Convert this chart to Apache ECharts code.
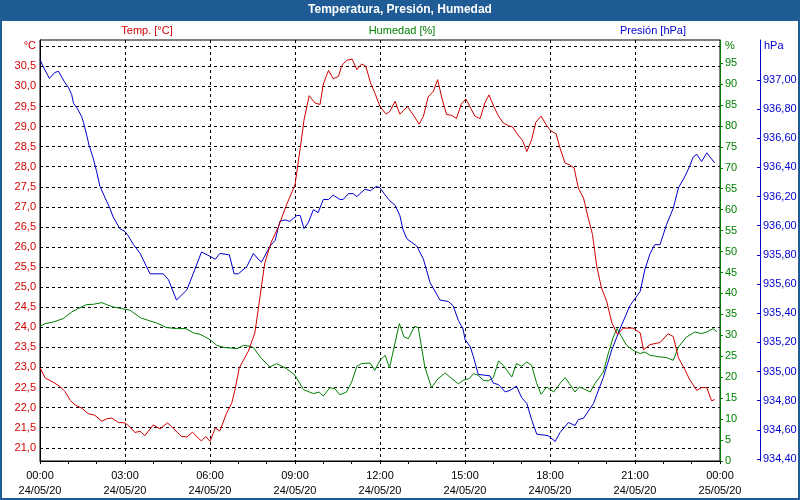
<!DOCTYPE html>
<html>
<head>
<meta charset="utf-8">
<script src="https://cdn.jsdelivr.net/npm/echarts@6/dist/echarts.min.js"></script>
<style>
html,body{margin:0;padding:0;background:#fff;}
#chart{width:800px;height:500px;}
</style>
</head>
<body>
<div id="chart"></div>
<script>
// ---- data (minutes since 24/05/20 00:00) ----
const tempTimes = [0,11,28,42,53,64,74,88,102,116,131,141,152,166,180,191,201,212,222,240,254,270,282,300,311,323,335,342,351,360,371,381,395,406,413,422,441,455,466,476,489,505,522,540,547,551,559,570,582,593,600,611,621,632,639,649,661,671,681,690,700,709,720,733,741,752,762,778,790,803,812,822,833,842,851,861,872,882,892,902,912,921,932,942,951,961,971,981,992,1001,1009,1022,1031,1041,1050,1061,1072,1081,1093,1101,1112,1121,1131,1140,1151,1161,1170,1179,1189,1200,1211,1223,1235,1256,1271,1278,1292,1313,1330,1341,1352,1366,1376,1391,1401,1412,1422,1429];
const tempValues = [22.99,22.74,22.63,22.53,22.40,22.18,22.07,21.99,21.85,21.81,21.66,21.72,21.74,21.63,21.62,21.51,21.38,21.41,21.30,21.57,21.47,21.62,21.49,21.28,21.27,21.39,21.24,21.17,21.28,21.16,21.49,21.42,21.86,22.11,22.45,22.99,23.40,23.86,24.77,25.60,26.10,26.51,27.05,27.55,28.13,28.45,29.16,29.77,29.59,29.55,30.06,30.40,30.19,30.25,30.52,30.65,30.68,30.42,30.56,30.50,30.09,29.84,29.50,29.31,29.38,29.63,29.31,29.50,29.30,29.06,29.26,29.74,29.88,30.17,29.71,29.30,29.28,29.20,29.56,29.69,29.46,29.26,29.20,29.59,29.79,29.50,29.26,29.09,29.02,28.99,28.84,28.65,28.38,28.67,29.11,29.26,29.05,28.90,28.82,28.47,28.09,28.05,27.97,27.47,27.22,26.72,26.31,25.52,24.98,24.65,24.11,23.82,23.98,23.98,23.86,23.44,23.57,23.62,23.84,23.77,23.24,22.94,22.69,22.43,22.50,22.50,22.17,22.20];

const humTimes = [0,11,28,49,67,81,99,113,131,141,155,173,191,212,233,247,268,289,309,325,339,360,374,392,417,431,445,452,469,487,501,522,540,558,579,591,600,614,625,635,649,660,671,681,699,709,720,731,740,761,771,780,793,801,815,829,843,858,872,886,896,909,918,928,939,949,960,971,981,999,1009,1020,1031,1041,1052,1061,1073,1088,1101,1112,1121,1133,1142,1151,1165,1175,1193,1203,1214,1222,1232,1242,1256,1271,1281,1292,1313,1327,1341,1352,1369,1387,1401,1412,1426,1433];
const humValues = [32.16,32.80,33.18,33.99,35.57,36.38,37.34,37.41,37.81,37.34,36.76,36.38,35.98,34.23,33.42,32.94,31.85,31.61,31.61,30.56,30.25,28.98,27.62,27.07,26.83,27.62,27.38,27.07,24.44,22.44,23.25,22.06,20.46,17.04,16.09,16.47,15.52,17.52,17.20,15.80,16.47,18.86,22.61,23.25,23.39,21.65,24.04,25.23,22.20,32.80,29.60,29.22,32.16,31.85,22.44,17.52,19.67,21.01,19.67,18.40,19.26,19.67,20.86,20.46,19.26,19.10,19.91,23.87,22.85,20.05,23.25,22.61,23.63,22.85,18.48,15.92,17.67,16.47,18.48,19.91,18.48,16.47,17.67,17.28,16.47,18.48,21.25,25.50,29.60,31.61,29.60,27.62,26.43,25.64,26.02,25.23,24.83,24.68,24.04,27.21,29.60,30.80,30.41,30.80,31.61,30.80];

const presTimes = [0,7,20,31,39,46,53,60,67,71,78,88,92,99,104,113,120,127,138,148,155,169,180,187,198,212,233,261,272,289,311,328,342,360,371,381,401,411,420,438,452,462,469,487,498,508,519,529,544,551,559,568,579,589,600,611,621,635,642,653,663,671,688,700,712,720,731,741,752,762,769,777,798,812,826,847,865,875,886,896,900,911,918,928,953,960,971,985,995,1009,1020,1031,1041,1052,1076,1091,1101,1119,1133,1140,1151,1172,1193,1211,1228,1249,1271,1281,1292,1302,1313,1327,1341,1352,1366,1376,1383,1391,1401,1412,1429];
const presValues = [937.14,937.09,937.01,937.05,937.06,937.02,936.98,936.95,936.90,936.84,936.81,936.75,936.71,936.62,936.55,936.46,936.37,936.27,936.19,936.12,936.06,935.98,935.96,935.93,935.87,935.81,935.67,935.67,935.63,935.49,935.56,935.70,935.82,935.79,935.77,935.81,935.80,935.67,935.67,935.72,935.81,935.77,935.75,935.86,935.90,936.03,936.04,936.03,936.07,936.07,935.98,936.02,936.11,936.09,936.18,936.18,936.21,936.18,936.18,936.22,936.22,936.20,936.25,936.24,936.27,936.26,936.21,936.17,936.14,936.07,935.97,935.91,935.86,935.77,935.61,935.49,935.48,935.45,935.35,935.29,935.22,935.17,935.10,934.98,934.97,934.92,934.91,934.86,934.87,934.90,934.82,934.78,934.67,934.57,934.56,934.52,934.58,934.65,934.63,934.67,934.68,934.78,934.96,935.15,935.29,935.45,935.55,935.70,935.81,935.87,935.87,936.01,936.12,936.26,936.34,936.41,936.47,936.49,936.44,936.50,936.43];

// ---- tick labels ----
const tempTicks = [21.0,21.5,22.0,22.5,23.0,23.5,24.0,24.5,25.0,25.5,26.0,26.5,27.0,27.5,28.0,28.5,29.0,29.5,30.0,30.5,31.0];
const tempLabels = [21.0,21.5,22.0,22.5,23.0,23.5,24.0,24.5,25.0,25.5,26.0,26.5,27.0,27.5,28.0,28.5,29.0,29.5,30.0,30.5];
const humTicks = [0,5,10,15,20,25,30,35,40,45,50,55,60,65,70,75,80,85,90,95];
const presTicks = [934.4,934.6,934.8,935.0,935.2,935.4,935.6,935.8,936.0,936.2,936.4,936.6,936.8,937.0];
const dateLabels = ['24/05/20','25/05/20'];

const RED = '#d00000', GREEN = '#008000', BLUE = '#0000cc', BAR = '#1f5c96';
const FONT = 'Liberation Sans';

const pairs = (ts, vs) => ts.map((t, i) => [t, vs[i]]);
const comma = (v, d) => v.toFixed(d).replace('.', ',');

const chart = echarts.init(document.getElementById('chart'), null, {renderer: 'canvas'});
chart.setOption({
  animation: false,
  backgroundColor: '#ffffff',
  textStyle: {fontFamily: FONT},
  grid: {left: 40, right: 80, top: 40, bottom: 39, show: true, borderColor: '#000', borderWidth: 1, backgroundColor: 'transparent'},
  xAxis: {
    type: 'value', min: 0, max: 1440, interval: 180,
    axisLine: {onZero: false, lineStyle: {color: '#000', width: 1}},
    axisTick: {show: true, length: 3, lineStyle: {color: '#000'}},
    minorTick: {show: true, splitNumber: 3, length: 3, lineStyle: {color: '#000'}},
    splitLine: {show: true, lineStyle: {color: '#000', type: [3, 3], width: 1}},
    axisLabel: {
      color: '#000', fontSize: 11, fontFamily: FONT, lineHeight: 15, margin: 7,
      showMinLabel: true, showMaxLabel: true,
      formatter: function (v) {
        const d = Math.floor(v / 1440);
        const m = v % 1440;
        const hh = String(Math.floor(m / 60)).padStart(2, '0');
        const mm = String(m % 60).padStart(2, '0');
        return hh + ':' + mm + '\n' + dateLabels[d];
      }
    }
  },
  yAxis: [
    {
      type: 'value', position: 'left', min: 20.67, max: 31.157,
      axisLine: {show: true, lineStyle: {color: '#000'}},
      axisTick: {show: false, customValues: tempTicks},
      axisLabel: {customValues: tempLabels, color: RED, fontSize: 11, fontFamily: FONT, margin: 4,
        formatter: v => comma(v, 1)},
      splitLine: {show: true, lineStyle: {color: '#000', type: [3, 3], width: 1}}
    },
    {
      type: 'value', position: 'right', min: 0, max: 100.5,
      axisLine: {show: true, lineStyle: {color: GREEN}},
      axisTick: {show: true, length: 3, customValues: humTicks, lineStyle: {color: GREEN}},
      axisLabel: {customValues: humTicks, color: GREEN, fontSize: 11, fontFamily: FONT, margin: 5},
      splitLine: {show: false}
    },
    {
      type: 'value', position: 'right', offset: 40, min: 934.386, max: 937.274,
      axisLine: {show: true, lineStyle: {color: BLUE}},
      axisTick: {show: true, inside: true, length: 3, customValues: presTicks, lineStyle: {color: BLUE}},
      axisLabel: {customValues: presTicks, color: BLUE, fontSize: 11, fontFamily: FONT, margin: 3,
        formatter: v => comma(v, 2)},
      splitLine: {show: false}
    }
  ],
  series: [
    {name: 'Humedad', type: 'line', yAxisIndex: 1, symbol: 'none', lineStyle: {color: GREEN, width: 1}, data: pairs(humTimes, humValues)},
    {name: 'Presión', type: 'line', yAxisIndex: 2, symbol: 'none', lineStyle: {color: BLUE, width: 1}, data: pairs(presTimes, presValues)},
    {name: 'Temp.', type: 'line', yAxisIndex: 0, symbol: 'none', lineStyle: {color: RED, width: 1}, data: pairs(tempTimes, tempValues)}
  ],
  graphic: [
    {type: 'rect', shape: {x: 0, y: 0, width: 800, height: 21}, style: {fill: BAR}, silent: true},
    {type: 'rect', shape: {x: 1, y: 1, width: 798, height: 498}, style: {fill: null, stroke: BAR, lineWidth: 2}, silent: true},
    {type: 'text', x: 400, y: 10, style: {text: 'Temperatura, Presión, Humedad', fill: '#ffffff', font: 'bold 12px ' + FONT, textAlign: 'center', textVerticalAlign: 'middle'}},
    {type: 'text', x: 147, y: 31, style: {text: 'Temp. [°C]', fill: RED, font: '11px ' + FONT, textAlign: 'center', textVerticalAlign: 'middle'}},
    {type: 'text', x: 402, y: 31, style: {text: 'Humedad [%]', fill: GREEN, font: '11px ' + FONT, textAlign: 'center', textVerticalAlign: 'middle'}},
    {type: 'text', x: 653, y: 31, style: {text: 'Presión [hPa]', fill: BLUE, font: '11px ' + FONT, textAlign: 'center', textVerticalAlign: 'middle'}},
    {type: 'text', x: 36, y: 46, style: {text: '°C', fill: RED, font: '11px ' + FONT, textAlign: 'right', textVerticalAlign: 'middle'}},
    {type: 'text', x: 725, y: 46, style: {text: '%', fill: GREEN, font: '11px ' + FONT, textAlign: 'left', textVerticalAlign: 'middle'}},
    {type: 'text', x: 764, y: 46, style: {text: 'hPa', fill: BLUE, font: '11px ' + FONT, textAlign: 'left', textVerticalAlign: 'middle'}}
  ]
});
</script>
</body>
</html>
